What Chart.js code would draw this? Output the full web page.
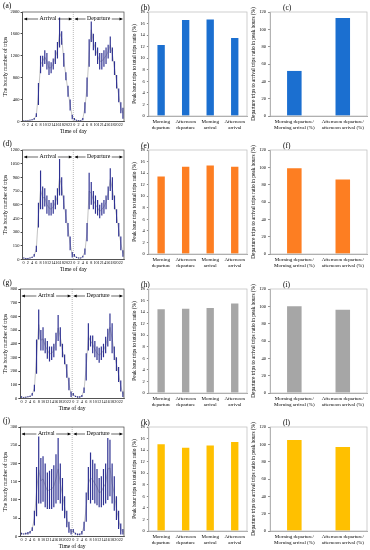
<!DOCTYPE html>
<html>
<head>
<meta charset="utf-8">
<script src="https://cdn.jsdelivr.net/npm/chart.js@4.4.1/dist/chart.umd.min.js"></script>
<style>
body{margin:0;background:#fff;width:370px;height:550px;position:relative;overflow:hidden;font-family:"Liberation Serif",serif}
canvas{position:absolute}
.lbl{position:absolute;font-size:7.5px;color:#000;line-height:1}
</style>
</head>
<body>
<script>
// === DATI ===
const hourLabels=["0","1","2","3","4","5","6","7","8","9","10","11","12","13","14","15","16","17","18","19","20","21","22","23"];

// (a) min / max ogni ora
const aArrLow =[5,5,10,15,20,30,80,300,880,1000,1050,950,850,880,950,1050,1150,1350,1400,1000,750,450,200,40];
const aArrHigh=[15,15,20,30,40,60,150,700,1200,1200,1300,1250,1100,1080,1150,1300,1450,1900,1650,1250,900,650,400,120];
const aDepLow =[20,10,5,5,20,150,450,1000,1450,1300,1200,1050,950,950,1000,1050,1150,1250,1100,850,600,350,150,50];
const aDepHigh=[60,30,20,20,60,350,800,1500,1900,1600,1450,1350,1250,1250,1300,1350,1400,1550,1350,1100,850,600,350,250];
// (d)
const dArrLow =[10,5,5,10,15,30,80,350,550,550,580,500,480,480,500,550,600,700,700,550,400,250,100,20];
const dArrHigh=[20,15,15,20,30,60,150,620,975,800,780,700,650,620,650,700,780,1100,900,700,550,400,250,80];
const dDepLow =[30,15,10,10,20,50,200,550,600,550,500,480,450,480,500,550,650,750,650,550,400,250,100,30];
const dDepHigh=[60,30,20,20,40,120,400,950,850,750,700,650,600,620,650,700,800,1000,900,700,550,400,250,100];
// (g)
const gArrLow =[5,5,5,8,10,20,50,180,430,350,350,330,290,270,280,300,350,420,380,300,250,150,60,10];
const gArrHigh=[15,10,12,15,20,40,100,430,650,500,520,440,420,380,380,400,480,610,520,400,320,250,150,50];
const gDepLow =[20,10,5,5,10,40,130,350,380,330,300,280,260,280,300,330,380,420,330,280,200,120,50,10];
const gDepHigh=[40,20,15,15,25,80,330,550,460,460,420,380,370,380,400,450,510,620,550,380,300,230,130,50];
// (j)
const jArrLow =[5,5,5,5,8,15,30,55,90,90,95,80,75,75,75,80,90,100,90,70,50,25,10,5];
const jArrHigh=[10,8,10,12,15,25,70,190,275,215,220,200,175,180,185,195,225,270,200,160,110,70,40,20];
const jDepLow =[10,5,3,3,5,15,40,100,90,100,90,85,80,80,85,90,100,110,90,70,45,20,5,5];
const jDepHigh=[20,10,8,8,15,40,120,190,230,210,200,185,160,165,185,200,270,265,200,165,110,70,35,20];

// barre: quota ora di punta
const peakCats=[["Morning","departure"],["Afternoon","departure"],["Morning","arrival"],["Afternoon","arrival"]];
const bPeak=[12.3,16.6,16.7,13.5];
const ePeak=[13.4,15.1,15.3,15.1];
const hPeak=[14.5,14.6,14.7,15.5];
const kPeak=[15.0,14.4,14.8,15.4];
// barre: rapporto partenze / arrivi
const ratioCats=[["Morning departure/","Morning arrival (%)"],["Afternoon departure/","afternoon arrival (%)"]];
const cRatio=[52,113];
const fRatio=[99,86];
const iRatio=[100,96];
const lRatio=[105,97];

// === STILE ===
Chart.defaults.font.family='"Liberation Serif", "Times New Roman", serif';
Chart.defaults.color='#000';
const navy='#2e3192';
const rowTop=[0,138,277,415];
const plain=v=>String(v); // niente separatore migliaia

function mkCanvas(x,y,w,h){
  const c=document.createElement('canvas');
  c.width=w;c.height=h;
  c.style.left=x+'px';c.style.top=y+'px';c.style.width=w+'px';c.style.height=h+'px';
  document.body.appendChild(c);
  return c;
}
function mkLabel(txt,x,y){
  const d=document.createElement('div');
  d.className='lbl';d.textContent=txt;d.style.left=x+'px';d.style.top=y+'px';
  document.body.appendChild(d);
}

// === PLUGIN: cornice ===
function frame(color){
  return {id:'frame',afterDraw(ch){
    const {ctx,chartArea:a}=ch;
    ctx.save();ctx.strokeStyle=color;ctx.lineWidth=0.7;
    ctx.strokeRect(a.left,a.top,a.right-a.left,a.bottom-a.top);
    ctx.restore();
  }};
}

// === PLUGIN: frecce Arrival / Departure ===
function arrow(ctx,x1,x2,y,txt){
  ctx.strokeStyle='#000';ctx.fillStyle='#000';ctx.lineWidth=0.6;
  ctx.beginPath();ctx.moveTo(x1,y);ctx.lineTo(x2,y);ctx.stroke();
  ctx.beginPath();ctx.moveTo(x1,y);ctx.lineTo(x1+3,y-1.5);ctx.lineTo(x1+3,y+1.5);ctx.fill();
  ctx.beginPath();ctx.moveTo(x2,y);ctx.lineTo(x2-3,y-1.5);ctx.lineTo(x2-3,y+1.5);ctx.fill();
  ctx.font='5.8px "Liberation Serif", serif';
  const w=ctx.measureText(txt).width,cx=(x1+x2)/2;
  ctx.fillStyle='#fff';ctx.fillRect(cx-w/2-1.5,y-3.5,w+3,6);
  ctx.fillStyle='#000';ctx.textAlign='center';ctx.textBaseline='middle';
  ctx.fillText(txt,cx,y-0.5);
}
const arrows={id:'arrows',afterDraw(ch){
  const {ctx,chartArea:a,scales:{x}}=ch;
  const mid=(x.getPixelForValue(23)+x.getPixelForValue(24))/2;
  ctx.save();
  ctx.strokeStyle='#888';ctx.lineWidth=0.6;ctx.setLineDash([1,1]);
  ctx.beginPath();ctx.moveTo(mid,a.top);ctx.lineTo(mid,a.bottom);ctx.stroke();
  ctx.setLineDash([]);
  const y=a.top+7;
  arrow(ctx,a.left+1.5,mid-1.5,y,'Arrival');
  arrow(ctx,mid+1.5,a.right-1.5,y,'Departure');
  ctx.restore();
}};

// === GRAFICO ORARIO ===
function hourlyChart(row,tag,arrLow,arrHigh,depLow,depHigh,max,step){
  const top=rowTop[row];
  const low=arrLow.concat(depLow),high=arrHigh.concat(depHigh);
  const ranges=low.map((v,i)=>[v,high[i]]);
  const mean=low.map((v,i)=>(v+high[i])/2);
  new Chart(mkCanvas(0,top,126,135),{type:'bar',
    data:{labels:hourLabels.concat(hourLabels),datasets:[
      {type:'line',data:mean,borderColor:'#9a9a9a',borderWidth:0.6,pointRadius:0,order:2},
      {data:ranges,backgroundColor:navy,barPercentage:0.55,categoryPercentage:1,order:1}
    ]},
    options:{responsive:false,animation:false,
      plugins:{legend:{display:false},tooltip:{enabled:false}},
      layout:{padding:{top:12,right:2,left:2,bottom:0}},
      scales:{
        x:{grid:{display:false,drawTicks:false},border:{color:'#444',width:0.7},
          ticks:{autoSkip:false,maxRotation:0,minRotation:0,padding:1,font:{size:4.2},
            callback(v,i){return i%2?'':this.getLabelForValue(v);}},
          title:{display:true,text:'Time of day',font:{size:5.5},padding:{top:0,bottom:0}}},
        y:{min:0,max:max,border:{color:'#444',width:0.7},
          grid:{drawOnChartArea:false,tickLength:2,color:'#444'},
          ticks:{stepSize:step,font:{size:4.5},padding:1,callback:plain},
          title:{display:true,text:'The hourly number of trips',font:{size:5.5},padding:{top:0,bottom:1}}}
      }},
    plugins:[frame('#444'),arrows]
  });
  mkLabel(tag,3,top+2);
}

// === GRAFICO A BARRE ===
function barChart(x,w,row,tag,labX,cats,vals,color,max,step,bp,ytitle,padL){
  const top=rowTop[row];
  new Chart(mkCanvas(x,top,w,135),{type:'bar',
    data:{labels:cats,datasets:[{data:vals,backgroundColor:color,barPercentage:bp,categoryPercentage:1}]},
    options:{responsive:false,animation:false,
      plugins:{legend:{display:false},tooltip:{enabled:false}},
      layout:{padding:{top:12,right:3,left:padL,bottom:1}},
      scales:{
        x:{grid:{display:false,drawTicks:false},border:{color:'#888',width:0.7},
          ticks:{autoSkip:false,maxRotation:0,minRotation:0,padding:3,font:{size:5}}},
        y:{min:0,max:max,border:{color:'#888',width:0.7},
          grid:{drawOnChartArea:false,tickLength:2,color:'#888'},
          ticks:{stepSize:step,font:{size:4.5},padding:2,callback:plain},
          title:{display:true,text:ytitle,font:{size:5.3},padding:{top:0,bottom:1}}}
      }},
    plugins:[frame('#bbb')]
  });
  mkLabel(tag,x+labX,top+4);
}

// === COSTRUZIONE ===
const peakTitle='Peak hour trips to total trips ratio (%)';
const ratioTitle='Departure trips to arrival trips ratio in peak hours (%)';

hourlyChart(0,'(a)',aArrLow,aArrHigh,aDepLow,aDepHigh,2000,400);
hourlyChart(1,'(d)',dArrLow,dArrHigh,dDepLow,dDepHigh,1200,150);
hourlyChart(2,'(g)',gArrLow,gArrHigh,gDepLow,gDepHigh,800,100);
hourlyChart(3,'(j)',jArrLow,jArrHigh,jDepLow,jDepHigh,300,50);

const cols=[['(b)','(c)','#1b6fd0',bPeak,cRatio],['(e)','(f)','#fd7e22',ePeak,fRatio],
            ['(h)','(i)','#a6a6a6',hPeak,iRatio],['(k)','(l)','#ffc000',kPeak,lRatio]];
cols.forEach((c,r)=>{
  barChart(126,124,r,c[0],15,peakCats,c[3],c[2],18,2,0.3,peakTitle,5);
  barChart(250,120,r,c[1],33,ratioCats,c[4],c[2],120,20,0.3,ratioTitle,0);
});
</script>
</body>
</html>
